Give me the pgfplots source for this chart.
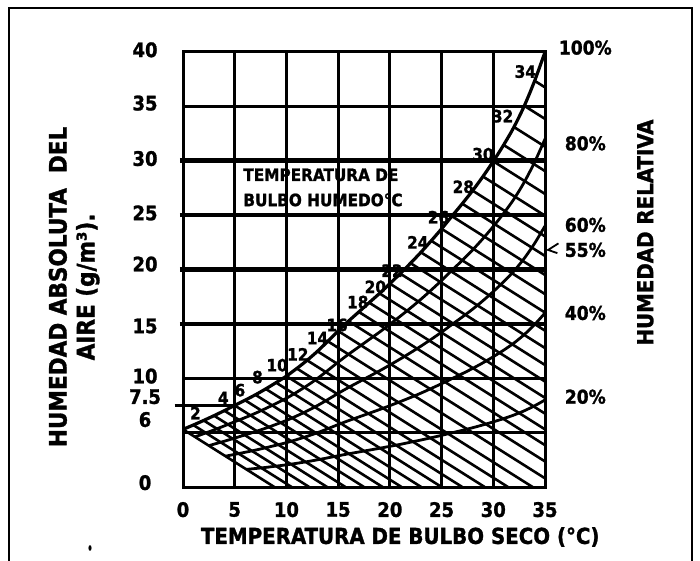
\documentclass[border=0pt]{standalone}
\usepackage{pgfplots}
\pgfplotsset{compat=1.18}
\usepackage{fontspec}
\setmainfont{DejaVu Sans Condensed}[BoldFeatures={FakeBold=1.3}]
\tikzset{
  wb/.style={black, line width=1.3pt},
  rh/.style={black, line width=1.4pt, smooth},
  lab/.style={font=\fontsize{8.5}{9}\selectfont\bfseries, inner sep=0.5pt},
  ly/.style={font=\fontsize{10}{12}\selectfont\bfseries},
  ry/.style={font=\fontsize{9.5}{11}\selectfont\bfseries},
}
\begin{document}
\begin{tikzpicture}
\path[use as bounding box] (-91.5pt,-37pt) rectangle (258.5pt,243.5pt);
\draw[line width=1.1pt] (-87pt,-37pt) -- (-87pt,239.5pt) -- (254.5pt,239.5pt) -- (254.5pt,-37pt);
\fill (-46.5pt,-30.5pt) ellipse (0.8pt and 1.4pt);
\begin{axis}[
  at={(0pt,0pt)}, anchor=south west, scale only axis,
  width=181pt, height=217.5pt,
  xmin=0, xmax=35, ymin=0, ymax=40, clip=false,
  xtick={0,5,...,35}, xticklabels={0,5,10,15,20,25,30,35},
  ytick={0,5,...,40}, yticklabels={},
  grid=major, major grid style={black, line width=1.5pt},
  axis line style={line width=1.5pt}, major tick length=0pt,
  xticklabel style={font=\fontsize{10}{12}\selectfont\bfseries, yshift=-4pt},
]
% thick horizontal lines
\addplot[black, line width=2.3pt] coordinates {(-0.3,30) (35,30)};
\addplot[black, line width=2.3pt] coordinates {(-0.3,25) (35,25)};
\addplot[black, line width=2.3pt] coordinates {(-0.3,20) (35,20)};
\addplot[black, line width=2.3pt] coordinates {(-0.3,15) (35,15)};
\addplot[black, line width=1.2pt] coordinates {(-0.8,7.5) (5,7.5)};
% wet-bulb lines
\addplot[wb] coordinates {(0,5.30) (8.83,0)};
\addplot[wb] coordinates {(1,5.70) (10.50,0)};
\addplot[wb] coordinates {(2,6.12) (12.20,0)};
\addplot[wb] coordinates {(3,6.56) (13.93,0)};
\addplot[wb] coordinates {(4,7.02) (15.70,0)};
\addplot[wb] coordinates {(5,7.50) (17.50,0)};
\addplot[wb] coordinates {(6,7.98) (19.30,0)};
\addplot[wb] coordinates {(7,8.48) (21.13,0)};
\addplot[wb] coordinates {(8,9.02) (23.03,0)};
\addplot[wb] coordinates {(9,9.60) (25.00,0)};
\addplot[wb] coordinates {(10,10.20) (27.00,0)};
\addplot[wb] coordinates {(11,10.90) (29.17,0)};
\addplot[wb] coordinates {(12,11.65) (31.42,0)};
\addplot[wb] coordinates {(13,12.48) (33.80,0)};
\addplot[wb] coordinates {(14,13.40) (35,0.80)};
\addplot[wb] coordinates {(15,14.35) (35,2.35)};
\addplot[wb] coordinates {(16,15.25) (35,3.85)};
\addplot[wb] coordinates {(17,16.10) (35,5.30)};
\addplot[wb] coordinates {(18,16.95) (35,6.75)};
\addplot[wb] coordinates {(19,17.80) (35,8.20)};
\addplot[wb] coordinates {(20,18.70) (35,9.70)};
\addplot[wb] coordinates {(21,19.62) (35,11.22)};
\addplot[wb] coordinates {(22,20.58) (35,12.78)};
\addplot[wb] coordinates {(23,21.58) (35,14.38)};
\addplot[wb] coordinates {(24,22.64) (35,16.04)};
\addplot[wb] coordinates {(25,23.74) (35,17.74)};
\addplot[wb] coordinates {(26,24.90) (35,19.50)};
\addplot[wb] coordinates {(27,26.05) (35,21.25)};
\addplot[wb] coordinates {(28,27.25) (35,23.05)};
\addplot[wb] coordinates {(29,28.55) (35,24.95)};
\addplot[wb] coordinates {(30,29.95) (35,26.95)};
\addplot[wb] coordinates {(31,31.45) (35,29.05)};
\addplot[wb] coordinates {(32,33.10) (35,31.30)};
\addplot[wb] coordinates {(33,35.05) (35,33.85)};
\addplot[wb] coordinates {(34,37.35) (35,36.75)};
% saturation (100%)
\addplot[rh, line width=1.6pt] coordinates {
(0,5.30)(1,5.70)(2,6.12)(3,6.56)(4,7.02)(5,7.50)(6,7.98)(7,8.48)(8,9.02)(9,9.60)
(10,10.20)(11,10.90)(12,11.65)(13,12.48)(14,13.40)(15,14.35)(16,15.25)(17,16.10)(18,16.95)(19,17.80)
(20,18.70)(21,19.62)(22,20.58)(23,21.58)(24,22.64)(25,23.74)(26,24.90)(27,26.05)(28,27.25)(29,28.55)
(30,29.95)(31,31.45)(32,33.10)(33,35.05)(34,37.35)(35,40.00)};
% 80%
\addplot[rh] coordinates {
(1.16,4.61)(2,4.90)(3,5.25)(4,5.62)(5,6.00)(6,6.38)(7,6.78)(8,7.22)(9,7.68)
(10,8.16)(11,8.72)(12,9.32)(13,9.98)(14,10.72)(15,11.48)(16,12.20)(17,12.88)(18,13.56)(19,14.24)
(20,14.96)(21,15.70)(22,16.46)(23,17.26)(24,18.11)(25,18.99)(26,19.92)(27,20.84)(28,21.80)(29,22.84)
(30,23.96)(31,25.16)(32,26.48)(33,28.04)(34,29.88)(35,32.00)};
% 60%
\addplot[rh] coordinates {
(2.5,3.80)(3,3.94)(4,4.21)(5,4.50)(6,4.79)(7,5.09)(8,5.41)(9,5.76)
(10,6.12)(11,6.54)(12,6.99)(13,7.49)(14,8.04)(15,8.61)(16,9.15)(17,9.66)(18,10.17)(19,10.68)
(20,11.22)(21,11.77)(22,12.35)(23,12.95)(24,13.58)(25,14.24)(26,14.94)(27,15.63)(28,16.35)(29,17.13)
(30,17.97)(31,18.87)(32,19.86)(33,21.03)(34,22.41)(35,24.00)};
% 40%
\addplot[rh] coordinates {
(4.1,2.83)(5,3.00)(6,3.19)(7,3.39)(8,3.61)(9,3.84)
(10,4.08)(11,4.36)(12,4.66)(13,4.99)(14,5.36)(15,5.74)(16,6.10)(17,6.44)(18,6.78)(19,7.12)
(20,7.48)(21,7.85)(22,8.23)(23,8.63)(24,9.06)(25,9.50)(26,9.96)(27,10.42)(28,10.90)(29,11.42)
(30,11.98)(31,12.58)(32,13.24)(33,14.02)(34,14.94)(35,16.00)};
% 20%
\addplot[rh] coordinates {
(6.15,1.62)(7,1.70)(8,1.80)(9,1.92)
(10,2.04)(11,2.18)(12,2.33)(13,2.50)(14,2.68)(15,2.87)(16,3.05)(17,3.22)(18,3.39)(19,3.56)
(20,3.74)(21,3.92)(22,4.12)(23,4.32)(24,4.53)(25,4.75)(26,4.98)(27,5.21)(28,5.45)(29,5.71)
(30,5.99)(31,6.29)(32,6.62)(33,7.01)(34,7.47)(35,8.00)};
% wet-bulb labels
\node[lab] at (axis cs:1.2,6.8) {2};
\node[lab] at (axis cs:3.9,8.2) {4};
\node[lab] at (axis cs:5.5,8.9) {6};
\node[lab] at (axis cs:7.2,10.1) {8};
\node[lab] at (axis cs:9.1,11.2) {10};
\node[lab] at (axis cs:11.1,12.2) {12};
\node[lab] at (axis cs:13.0,13.7) {14};
\node[lab] at (axis cs:14.9,14.9) {16};
\node[lab] at (axis cs:16.9,17.0) {18};
\node[lab] at (axis cs:18.6,18.4) {20};
\node[lab] at (axis cs:20.2,19.9) {22};
\node[lab] at (axis cs:22.7,22.5) {24};
\node[lab] at (axis cs:24.7,24.8) {26};
\node[lab] at (axis cs:27.1,27.6) {28};
\node[lab] at (axis cs:29.0,30.6) {30};
\node[lab] at (axis cs:30.9,34.1) {32};
\node[lab] at (axis cs:33.1,38.2) {34};
% inner text
\node[anchor=west, font=\fontsize{8.5}{9}\selectfont\bfseries, inner sep=0pt] at (axis cs:5.8,28.7) {TEMPERATURA DE};
\node[anchor=west, font=\fontsize{8.5}{9}\selectfont\bfseries, inner sep=0pt] at (axis cs:5.8,26.4) {BULBO HUMEDO°C};
% left tick labels
\node[ly] at (axis cs:-3.67,40.2) {40};
\node[ly] at (axis cs:-3.67,35.3) {35};
\node[ly] at (axis cs:-3.67,30.2) {30};
\node[ly] at (axis cs:-3.67,25.2) {25};
\node[ly] at (axis cs:-3.67,20.5) {20};
\node[ly] at (axis cs:-3.67,14.8) {15};
\node[ly] at (axis cs:-3.67,10.2) {10};
\node[ly] at (axis cs:-3.67,8.3) {7.5};
\node[ly] at (axis cs:-3.67,6.2) {6};
\node[ly] at (axis cs:-3.67,0.4) {0};
% right tick labels
\node[ry] at (axis cs:38.9,40.4) {100\%};
\node[ry] at (axis cs:38.9,31.6) {80\%};
\node[ry] at (axis cs:38.9,24.1) {60\%};
\node[ry] at (axis cs:38.9,21.8) {55\%};
\node[ry] at (axis cs:38.9,16.0) {40\%};
\node[ry] at (axis cs:38.9,8.3) {20\%};
\draw[line width=0.9pt] (axis cs:36.3,22.4) -- (axis cs:35.3,21.8) -- (axis cs:36.2,21.5);
% axis titles
\node[font=\fontsize{11}{13}\selectfont\bfseries] at (axis cs:21.0,-4.6) {TEMPERATURA DE BULBO SECO (°C)};
\node[rotate=90, font=\fontsize{12}{14}\selectfont\bfseries] at (axis cs:-12.1,18.4) {HUMEDAD ABSOLUTA\ \ DEL};
\node[rotate=90, font=\fontsize{12}{14}\selectfont\bfseries] at (axis cs:-9.2,18.4) {AIRE (g/m³).};
\node[rotate=90, font=\fontsize{11}{13}\selectfont\bfseries] at (axis cs:44.7,23.4) {HUMEDAD RELATIVA};
\end{axis}
\end{tikzpicture}
\end{document}
